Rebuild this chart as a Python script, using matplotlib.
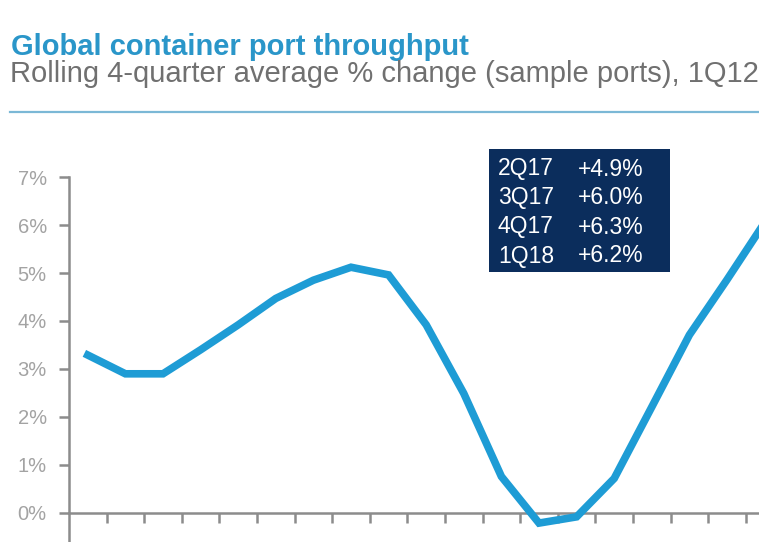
import matplotlib
matplotlib.use('Agg')
import matplotlib.pyplot as plt
import numpy as np

plt.rcParams['font.family'] = ['Liberation Sans', 'DejaVu Sans']

# rolling 4-quarter avg % change, one value per quarter (last one runs off the crop)
values = [3.29, 2.90, 2.90, 3.40, 3.92, 4.47, 4.85, 5.12, 4.96, 3.92,
          2.49, 0.76, -0.21, -0.08, 0.72, 2.21, 3.71, 4.86, 6.05]
ytick_vals = [0, 1, 2, 3, 4, 5, 6, 7]
ytick_labels = ['0%', '1%', '2%', '3%', '4%', '5%', '6%', '7%']
box_quarters = ['2Q17', '3Q17', '4Q17', '1Q18']
box_values = ['+4.9%', '+6.0%', '+6.3%', '+6.2%']

W, H = 759, 542
fig = plt.figure(figsize=(W / 100, H / 100), dpi=100)
fig.patch.set_facecolor('white')

# axes: y-axis at x=69px, 0% at y=513px, 7% at y=177px
ax = fig.add_axes([69 / W, 0, 1 - 69 / W, (H - 177) / H])
x = np.arange(len(values)) + 0.5
ax.plot(x, values, color='#1e9cd5', linewidth=5.5, solid_joinstyle='miter', zorder=3)
ax.set_xlim(0, (W - 69) / 37.6)
ax.set_ylim(-(H - 513) / 48, 7)

axis_col = '#8c8c8c'
for s in ['top', 'right']:
    ax.spines[s].set_visible(False)
ax.spines['bottom'].set_position(('data', 0))
ax.spines['bottom'].set_color(axis_col); ax.spines['bottom'].set_linewidth(1.8)
ax.spines['left'].set_color(axis_col); ax.spines['left'].set_linewidth(1.8)

ax.set_yticks(ytick_vals)
ax.set_yticklabels(ytick_labels)
ax.set_xticks(np.arange(1, len(values)))
ax.set_xticklabels([])
ax.tick_params(axis='y', direction='out', length=7, width=1.8, color=axis_col,
               labelcolor='#a3a3a3', labelsize=14.5, pad=9)
ax.tick_params(axis='x', direction='out', length=7, width=1.8, color=axis_col)

# title block (subtitle runs off the right edge, as in the source crop)
fig.text(11 / W, 1 - 55 / H, 'Global container port throughput', fontsize=21,
         fontweight='bold', color='#2a96c9', ha='left', va='baseline')
fig.text(10 / W, 1 - 82.5 / H, 'Rolling 4-quarter average % change (sample ports), 1Q12',
         fontsize=21, color='#707070', ha='left', va='baseline')
fig.add_artist(plt.Line2D([10 / W, 1], [1 - 112 / H, 1 - 112 / H],
                          color='#7bb8d6', linewidth=1.6, transform=fig.transFigure))

# dark info box
fig.add_artist(plt.Rectangle((489 / W, 1 - 272 / H), (670 - 489) / W, (272 - 149) / H,
                             facecolor='#0b2d5c', edgecolor='none',
                             transform=fig.transFigure, zorder=5))
for i, (q, v) in enumerate(zip(box_quarters, box_values)):
    yc = 1 - (169 + i * 29) / H
    fig.text(498 / W, yc, q, fontsize=16.5, color='white', ha='left', va='center', zorder=6)
    fig.text(578 / W, yc, v, fontsize=16.5, color='white', ha='left', va='center', zorder=6)

plt.savefig('out.png', dpi=100, facecolor='white')
plt.close()
